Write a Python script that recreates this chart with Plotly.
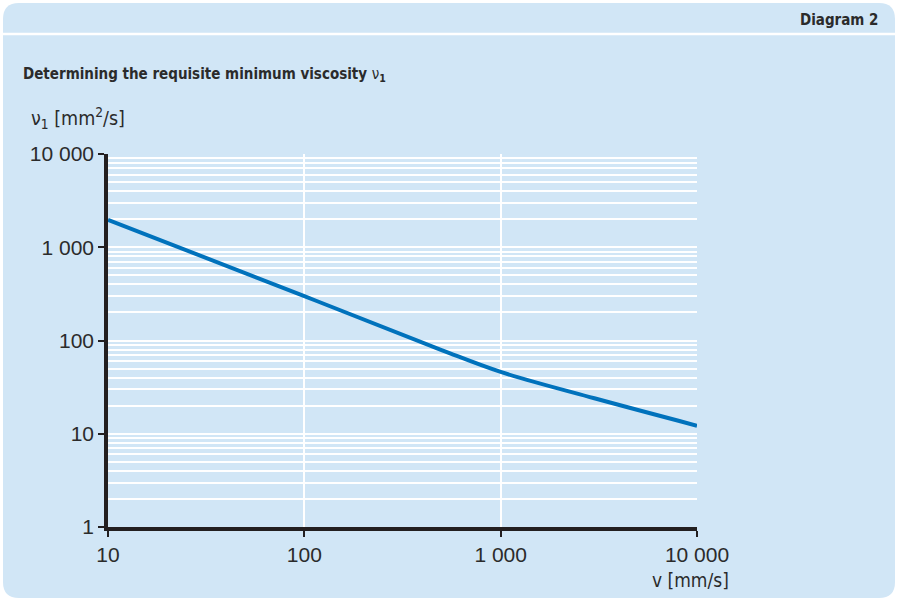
import plotly.graph_objects as go

# ---- data ----
speed_mm_s = [10, 100, 500, 1000, 3000, 10000]
viscosity_nu1 = [1970, 299, 79, 46, 24, 12.2]

x_tickvals = [10, 100, 1000, 10000]
x_ticktext = ["10", "100", "1 000", "10 000"]
y_tickvals = [1, 10, 100, 1000, 10000]
y_ticktext = ["1", "10", "100", "1 000", "10 000"]
y_minor_vals = [m * d for d in [1, 10, 100, 1000] for m in range(2, 10)]

# ---- layout geometry (pixels) ----
W, H = 897, 602
L, R, T, B = 108, 697, 154, 527
BG = "#d1e6f6"
TXT = "#2b2b2b"
TICKFONT = "Liberation Sans, Arial, sans-serif"
NARROW = "DejaVu Sans Condensed, Liberation Sans Narrow, Roboto, sans-serif"


def px(x):
    return (x - L) / (R - L)


def py(y):
    return (B - y) / (B - T)


def rounded_rect(x0, y0, x1, y1, r):
    pts = [
        f"M {px(x0 + r)},{py(y0)}",
        f"L {px(x1 - r)},{py(y0)}",
        f"Q {px(x1)},{py(y0)} {px(x1)},{py(y0 + r)}",
        f"L {px(x1)},{py(y1 - r)}",
        f"Q {px(x1)},{py(y1)} {px(x1 - r)},{py(y1)}",
        f"L {px(x0 + r)},{py(y1)}",
        f"Q {px(x0)},{py(y1)} {px(x0)},{py(y1 - r)}",
        f"L {px(x0)},{py(y0 + r)}",
        f"Q {px(x0)},{py(y0)} {px(x0 + r)},{py(y0)}",
        "Z",
    ]
    return " ".join(pts)


fig = go.Figure()
fig.add_trace(
    go.Scatter(
        x=speed_mm_s,
        y=viscosity_nu1,
        mode="lines",
        line=dict(color="#0072bc", width=4, shape="spline", smoothing=1.0),
        hoverinfo="skip",
        showlegend=False,
        cliponaxis=False,
    )
)

shapes = [
    dict(
        type="path",
        xref="paper",
        yref="paper",
        path=rounded_rect(3, 3, 895, 598, 16),
        fillcolor=BG,
        line=dict(width=0),
        layer="below",
    ),
    dict(
        type="line",
        xref="paper",
        yref="paper",
        x0=px(3),
        x1=px(895),
        y0=py(34),
        y1=py(34),
        line=dict(color="white", width=2.5),
        layer="below",
    ),
]

annotations = [
    dict(
        text="<b>Diagram 2</b>",
        xref="paper", yref="paper",
        x=px(881), y=py(20),
        xanchor="right", yanchor="middle",
        showarrow=False,
        font=dict(family=NARROW, size=15, color=TXT),
    ),
    dict(
        text="<b>Determining the requisite minimum viscosity </b>ν<b><sub>1</sub></b>",
        xref="paper", yref="paper",
        x=px(21), y=py(74),
        xanchor="left", yanchor="middle",
        showarrow=False,
        font=dict(family=NARROW, size=15, color=TXT),
    ),
    dict(
        text="ν<sub>1</sub> [mm<sup>2</sup>/s]",
        xref="paper", yref="paper",
        x=px(29), y=py(118),
        xanchor="left", yanchor="middle",
        showarrow=False,
        font=dict(family=NARROW, size=19.5, color=TXT),
    ),
    dict(
        text="v [mm/s]",
        xref="paper", yref="paper",
        x=px(731), y=py(580),
        xanchor="right", yanchor="middle",
        showarrow=False,
        font=dict(family=NARROW, size=19, color=TXT),
    ),
]

fig.update_layout(
    width=W,
    height=H,
    margin=dict(l=L, r=W - R, t=T, b=H - B, pad=0),
    paper_bgcolor="white",
    plot_bgcolor="rgba(0,0,0,0)",
    shapes=shapes,
    annotations=annotations,
    showlegend=False,
    xaxis=dict(
        type="log",
        range=[1, 4],
        tickmode="array",
        tickvals=x_tickvals,
        ticktext=x_ticktext,
        ticks="outside",
        ticklen=6,
        tickwidth=2,
        tickcolor="#231f20",
        showline=True,
        linecolor="#231f20",
        linewidth=3.5,
        showgrid=True,
        gridcolor="white",
        gridwidth=1.5,
        zeroline=False,
        tickfont=dict(family=TICKFONT, size=21, color=TXT),
        fixedrange=True,
    ),
    yaxis=dict(
        type="log",
        range=[0, 4],
        tickmode="array",
        tickvals=y_tickvals,
        ticktext=y_ticktext,
        ticks="outside",
        ticklen=6,
        tickwidth=2,
        tickcolor="#231f20",
        showline=True,
        linecolor="#231f20",
        linewidth=3.5,
        showgrid=True,
        gridcolor="white",
        gridwidth=1.5,
        zeroline=False,
        tickfont=dict(family=TICKFONT, size=21, color=TXT),
        minor=dict(
            tickmode="array",
            tickvals=y_minor_vals,
            showgrid=True,
            gridcolor="white",
            gridwidth=1.5,
            ticks="",
        ),
        fixedrange=True,
    ),
)

fig.write_html(
    "out.html",
    config=dict(displayModeBar=False),
    post_script="document.body.style.margin='0';",
)
